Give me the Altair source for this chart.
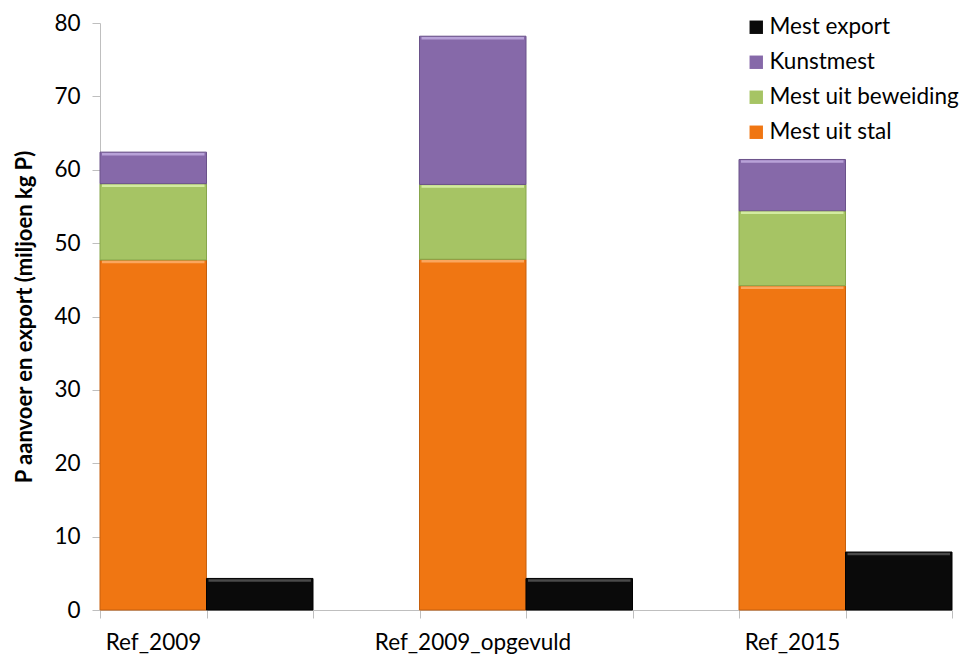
import altair as alt
import pandas as pd

# P supply and export per scenario (million kg P)
scenarios = ["Ref_2009", "Ref_2009_opgevuld", "Ref_2015"]
mest_uit_stal = [47.7, 47.8, 44.2]
mest_uit_beweiding = [10.4, 10.2, 10.2]
kunstmest = [4.3, 20.2, 7.0]
mest_export = [4.3, 4.3, 7.9]

# legend order (top to bottom) and colours: fill, edge shade, top highlight
series = ["Mest export", "Kunstmest", "Mest uit beweiding", "Mest uit stal"]
colors = ["#0A0A0A", "#8669A9", "#A6C464", "#F07612"]
edge_colors = ["#000000", "#6A528A", "#87A64C", "#C65F0C"]
highlight_colors = ["#4A4A4A", "#B8A2D8", "#D3EBA0", "#FAA65E"]

# each scenario takes three slots on the x axis: stacked supply, export, gap
rows = []
for i, name in enumerate(scenarios):
    slot = 3 * i
    stacked = [("Mest uit stal", mest_uit_stal[i]),
               ("Mest uit beweiding", mest_uit_beweiding[i]),
               ("Kunstmest", kunstmest[i])]
    for order, (serie, val) in enumerate(stacked):
        rows.append(dict(scenario=name, serie=serie, value=val,
                         slot=slot, slot_end=slot + 1, order=order))
    rows.append(dict(scenario=name, serie="Mest export", value=mest_export[i],
                     slot=slot + 1, slot_end=slot + 2, order=0))
df = pd.DataFrame(rows)

n_slots = 3 * len(scenarios) - 1
label_expr = " : ".join(
    f"datum.value == {3 * i} ? '{name}'" for i, name in enumerate(scenarios)
) + " : ''"

font = "Lato"
axis_grey = "#BFBFBF"

x_enc = alt.X("slot:Q",
              scale=alt.Scale(domain=[0, n_slots], nice=False, zero=False),
              axis=alt.Axis(values=list(range(n_slots + 1)), labelExpr=label_expr,
                            labelOffset=53, labelAlign="center", labelFlush=False,
                            labelOverlap=False, labelBound=False, labelLimit=0,
                            labelPadding=13, title=None, grid=False))
y_scale = alt.Scale(domain=[0, 80], nice=False)

base = alt.Chart(df).transform_stack(
    stack="value", groupby=["slot"], as_=["y0", "y1"], sort=[alt.SortField("order")]
)

bars = base.mark_bar(strokeWidth=1).encode(
    x=x_enc,
    x2="slot_end:Q",
    y=alt.Y("y0:Q", scale=y_scale,
            axis=alt.Axis(values=list(range(0, 81, 10)), grid=False,
                          title="P aanvoer en export (miljoen kg P)",
                          titleFontWeight="bold", titleFontSize=22,
                          titlePadding=17, labelPadding=12)),
    y2="y1:Q",
    color=alt.Color("serie:N",
                    scale=alt.Scale(domain=series, range=colors),
                    legend=alt.Legend(title=None, orient="none",
                                      legendX=645, legendY=-7,
                                      symbolType="square", symbolSize=180,
                                      symbolStrokeWidth=0, labelFontSize=22.5,
                                      labelFont=font, labelColor="#000000",
                                      labelLimit=0, labelOffset=2, rowPadding=12)),
    stroke=alt.Stroke("serie:N", scale=alt.Scale(domain=series, range=edge_colors),
                      legend=None),
)

# light bevel along the top edge of every segment
highlights = base.mark_rule(strokeWidth=2.5, yOffset=2, xOffset=2, x2Offset=-2).encode(
    x="slot:Q",
    x2="slot_end:Q",
    y=alt.Y("y1:Q", scale=y_scale),
    stroke=alt.Stroke("serie:N",
                      scale=alt.Scale(domain=series, range=highlight_colors),
                      legend=None),
)

chart = (
    alt.layer(bars, highlights)
    .resolve_scale(stroke="independent")
    .properties(
        width=852, height=587,
        padding={"left": 100, "top": 23, "right": 14, "bottom": 47},
        autosize=alt.AutoSizeParams(type="none"),
    )
    .configure_view(strokeWidth=0)
    .configure_axis(domainColor=axis_grey, tickColor=axis_grey, tickSize=8,
                    labelFont=font, labelFontSize=22.5, labelColor="#000000",
                    titleFont=font, titleColor="#000000")
)

chart.save("out.html", embed_options={"renderer": "svg", "actions": False})
